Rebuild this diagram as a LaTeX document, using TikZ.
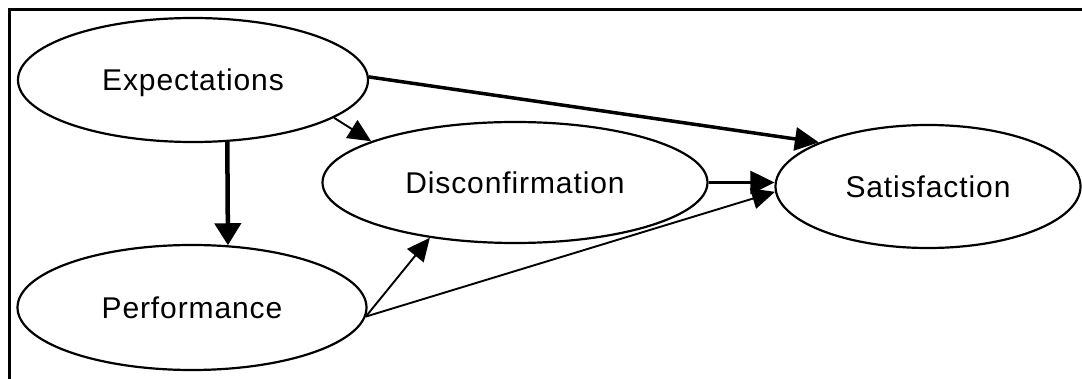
\documentclass[tikz,border=0pt]{standalone}
\usepackage{fontspec}
\setmainfont{Liberation Sans}[LetterSpace=3]
\usetikzlibrary{arrows.meta,shapes.geometric}
\begin{document}
\begin{tikzpicture}[x=1pt,y=-1pt,
  oval/.style={ellipse,draw,line width=2.2pt,inner sep=0pt,
    font=\fontsize{30}{36}\selectfont,text height=21.5pt,text depth=0pt},
  heavyarr/.style={line width=4.5pt,-{Triangle[length=22pt,width=26pt]}},
  thickarr/.style={line width=3.5pt,-{Triangle[length=24pt,width=23pt]}},
  midarr/.style={line width=3pt,-{Triangle[length=24pt,width=23pt]}},
  thinarr/.style={line width=1.9pt,-{Triangle[length=23pt,width=21pt]}}]
\useasboundingbox (0,0) rectangle (1082,379);
\draw[line width=2.5pt] (9.5,379) -- (9.5,9.5) -- (1082,9.5);
\node[oval,minimum width=350pt,minimum height=124pt] (exp) at (193,80) {Expectations};
\node[oval,minimum width=349pt,minimum height=125pt] (perf) at (192,307.5) {Performance};
\node[oval,minimum width=385pt,minimum height=121pt] (disc) at (515,182.5) {Disconfirmation};
\node[oval,minimum width=305pt,minimum height=123pt] (sat) at (928,186.5) {Satisfaction};
\draw[heavyarr] (exp.-61) -- (perf.60);
\draw[thinarr] (exp.-15) -- (disc.164);
\draw[thickarr] (exp.1) -- (sat.158);
\draw[midarr] (disc.east) -- (disc.east -| sat.west);
\draw[thinarr] (perf.-3) -- (disc.-147);
\draw[thinarr] (perf.-3) -- (sat.182);
\end{tikzpicture}
\end{document}
